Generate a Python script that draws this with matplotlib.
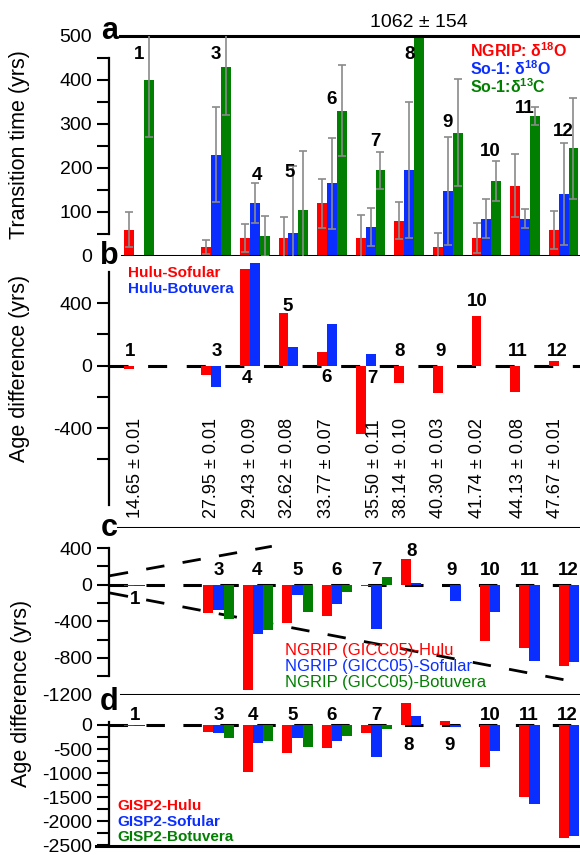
import numpy as np
import matplotlib
matplotlib.use('Agg')
import matplotlib.pyplot as plt

plt.rcParams['font.family'] = ['Liberation Sans', 'DejaVu Sans']
plt.rcParams['lines.scale_dashes'] = False

# events shown in every panel
events = [1, 3, 4, 5, 6, 7, 8, 9, 10, 11, 12]
ages = ['14.65 ± 0.01', '27.95 ± 0.01', '29.43 ± 0.09', '32.62 ± 0.08',
        '33.77 ± 0.07', '35.50 ± 0.11', '38.14 ± 0.10', '40.30 ± 0.03',
        '41.74 ± 0.02', '44.13 ± 0.08', '47.67 ± 0.01']
nan = np.nan

# a: transition times (yrs)
ngrip_d18o = [60, 20, 40, 40, 120, 40, 80, 20, 40, 160, 60]
ngrip_d18o_err = [40, 16, 32, 48, 56, 53, 42, 33, 34, 72, 43]
so1_d18o = [nan, 230, 120, 53, 165, 65, 195, 148, 85, 85, 140]
so1_d18o_err = [nan, 108, 46, 152, 103, 43, 155, 123, 45, 22, 116]
so1_d13c = [400, 430, 45, 105, 330, 195, 1062, 280, 170, 318, 245]
so1_d13c_err = [130, 110, 46, 133, 103, 42, 154, 122, 45, 21, 115]

# b: age differences (yrs)
hulu_sofular = [-20, -60, 620, 335, 85, -435, -110, -175, 320, -170, 30]
hulu_botuvera = [nan, -135, 660, 120, 265, 75, nan, nan, nan, nan, nan]

# c
ngrip_hulu = [-15, -310, -1150, -420, -345, -10, 280, nan, -610, -695, -890]
ngrip_sofular = [-10, -280, -540, -110, -210, -480, 15, -180, -300, -830, -850]
ngrip_botuvera = [nan, -380, -500, -300, -80, 80, nan, nan, nan, nan, nan]
env_x = [0.25, 4.35]
env_upper = [98, 420]
env_x_low = [0.25, 12.15]
env_lower = [-90, -1072]

# d
gisp2_hulu = [-20, -150, -980, -590, -480, -170, 460, 90, -870, -1500, -2350]
gisp2_sofular = [-30, -170, -365, -270, -340, -670, 190, -40, -550, -1640, -2310]
gisp2_botuvera = [nan, -275, -325, -465, -220, -90, nan, nan, nan, nan, nan]

# event number label placement
lab_a_dx = [0, 0, 0.05, -0.1, 0, 0.12, 0, 0, 0.1, 0, 0]
lab_a_y = [459, 459, 184, 190, 355, 261, 459, 303, 237, 336, 283]
lab_b_dx = [-0.23, 0.02, -0.2, -0.14, -0.13, 0.06, -0.24, -0.2, -0.24, -0.18, -0.17]
lab_b_y = [90, 90, -85, 378, -75, -80, 90, 90, 410, 90, 90]
lab_c_dx = [-0.11, 0, -0.03, 0.01, 0, -0.01, -0.1, -0.11, -0.13, -0.11, -0.15]
lab_c_y = [-164, 153, 153, 153, 153, 153, 360, 153, 153, 153, 153]
lab_d_dx = [-0.11, 0, -0.12, -0.11, -0.13, -0.01, -0.18, -0.16, -0.13, -0.14, -0.18]
lab_d_y = [190, 190, 190, 190, 190, 190, -417, -417, 190, 190, 190]
age_dx = [-0.1, -0.13, -0.1, -0.14, -0.13, 0.11, -0.19, -0.23, -0.24, -0.18, -0.2]

RED, BLUE, GREEN, GREY = '#ff0000', '#0a2eff', '#007f00', '#8a8a8a'
W, H = 580, 855
fig = plt.figure(figsize=(5.8, 8.55), dpi=100)


def px_axes(top, bottom, left=109):
    return fig.add_axes([left / W, 1 - bottom / H, (W - left) / W, (bottom - top) / H])


def xab(px):
    return 1 + (px - 139) / 38.6


def xcd(px):
    return 1 + (px - 139.5) / 39.5


ax_a = px_axes(36, 256)
ax_b = px_axes(256, 528)
ax_c = px_axes(528, 694.5)
ax_d = px_axes(694.5, 846)

x = np.array(events, float)
dx = 0.255


def bars(ax, xs, vals, color, err=None):
    vals = np.array(vals, float)
    m = ~np.isnan(vals)
    ax.bar(xs[m], vals[m], dx, color=color, zorder=2)
    if err is not None:
        ax.errorbar(xs[m], vals[m], yerr=np.array(err, float)[m], fmt='none',
                    ecolor=GREY, elinewidth=1.2, capsize=3, capthick=1.2, zorder=3)


def frame(ax, xl, yl, ybounds, bottom_from, ticks, labels, top_from=None, hide=()):
    ax.set_xlim(xl)
    ax.set_ylim(yl)
    ax.spines['right'].set_visible(False)
    ax.spines['left'].set_bounds(*ybounds)
    ax.spines['left'].set_linewidth(1.6)
    ax.spines['bottom'].set_bounds(bottom_from, xl[1])
    ax.spines['bottom'].set_linewidth(2.2)
    if top_from is None:
        ax.spines['top'].set_visible(False)
    else:
        ax.spines['top'].set_bounds(top_from, xl[1])
        ax.spines['top'].set_linewidth(2.2)
    ax.set_xticks([])
    ax.set_yticks(ticks, labels)
    ax.tick_params(axis='y', direction='out', length=9, width=1.5, labelsize=14, pad=3)
    for t, v in zip(ax.yaxis.get_major_ticks(), ticks):
        if v in hide:
            t.tick1line.set_markersize(0)


def zero_line(ax, on, off):
    ax.axhline(0, color='k', lw=2.2, ls=(0, (on, off)), zorder=1)


xl_ab = (xab(109), xab(580))
xl_cd = (xcd(109), xcd(580))

# ---- a
bars(ax_a, x - dx, ngrip_d18o, RED, ngrip_d18o_err)
bars(ax_a, x, so1_d18o, BLUE, so1_d18o_err)
bars(ax_a, x + dx, so1_d13c, GREEN, so1_d13c_err)
ta = list(range(0, 501, 50))
frame(ax_a, xl_ab, (0, 500), (50, 450), xab(122),
      ta, [str(v) if v % 100 == 0 else '' for v in ta], top_from=xab(120), hide=(0, 500))
for xi, d, y, n in zip(x, lab_a_dx, lab_a_y, events):
    ax_a.text(xi + d, y, str(n), ha='center', va='center', fontsize=13.5, fontweight='bold')
i8 = events.index(8)
ax_a.text(x[i8] + dx, 1.06, f'{so1_d13c[i8]} ± {so1_d13c_err[i8]}',
          transform=ax_a.get_xaxis_transform(), ha='center', va='center', fontsize=14)

# ---- b
zero_line(ax_b, 13.7, 14.1)
bars(ax_b, x - dx, hulu_sofular, RED)
bars(ax_b, x, hulu_botuvera, BLUE)
tb = [-600, -400, -200, 0, 200, 400]
frame(ax_b, xl_ab, (-1040, 703), (-890, 600), xab(118),
      tb, ['' if v % 400 else str(v) for v in tb])
for xi, d, y, n in zip(x, lab_b_dx, lab_b_y, events):
    ax_b.text(xi + d, y, str(n), ha='center', va='center', fontsize=13.5, fontweight='bold')
for xi, d, s in zip(x, age_dx, ages):
    ax_b.text(xi + d, -975, s, rotation=90, ha='center', va='bottom', fontsize=13)

# ---- c
zero_line(ax_c, 13.3, 13.3)
bars(ax_c, x - dx, ngrip_hulu, RED)
bars(ax_c, x, ngrip_sofular, BLUE)
bars(ax_c, x + dx, ngrip_botuvera, GREEN)
ax_c.plot(env_x, env_upper, color='k', lw=2, ls=(0, (13.3, 13.3)), zorder=1)
ax_c.plot(env_x_low, env_lower, color='k', lw=2, ls=(0, (13.3, 13.3)), zorder=1)
tc = list(range(-1200, 401, 200))
frame(ax_c, xl_cd, (-1200, 620), (-1000, 400), xcd(121),
      tc, ['' if v % 400 else str(v) for v in tc], hide=(-1200,))
for xi, d, y, n in zip(x, lab_c_dx, lab_c_y, events):
    ax_c.text(xi + d, y, str(n), ha='center', va='center', fontsize=13.5, fontweight='bold')

# ---- d
zero_line(ax_d, 13.3, 13.3)
bars(ax_d, x - dx, gisp2_hulu, RED)
bars(ax_d, x, gisp2_sofular, BLUE)
bars(ax_d, x + dx, gisp2_botuvera, GREEN)
td = list(range(-2500, 1, 250))
frame(ax_d, xl_cd, (-2520, 635), (-2520, 70), xcd(96),
      td, ['' if v % 500 else str(v) for v in td])
for xi, d, y, n in zip(x, lab_d_dx, lab_d_y, events):
    ax_d.text(xi + d, y, str(n), ha='center', va='center', fontsize=13.5, fontweight='bold')


def ptext(px, py, s, **kw):
    fig.text(px / W, 1 - py / H, s, **kw)


# panel letters
for s, px, py in [('a', 110, 31), ('b', 109, 256), ('c', 109, 528), ('d', 109, 702)]:
    ptext(px, py, s, ha='center', va='center', fontsize=22, fontweight='bold')

# axis titles
ptext(20, 145, 'Transition time (yrs)', rotation=90, ha='center', va='center', fontsize=15.5)
ptext(20, 368, 'Age difference (yrs)', rotation=90, ha='center', va='center', fontsize=15.5)
ptext(22, 693, 'Age difference (yrs)', rotation=90, ha='center', va='center', fontsize=15.5)

# legends
for s, c, py in [(r'NGRIP: $\mathregular{\delta^{18}}$O', RED, 51),
                 (r'So-1: $\mathregular{\delta^{18}}$O', BLUE, 69),
                 (r'So-1:$\mathregular{\delta^{13}}$C', GREEN, 87)]:
    ptext(470, py, s, color=c, ha='left', va='center', fontsize=11.5, fontweight='bold')
for s, c, py in [('Hulu-Sofular', RED, 273), ('Hulu-Botuvera', BLUE, 289)]:
    ptext(128, py, s, color=c, ha='left', va='center', fontsize=11, fontweight='bold')
for s, c, py in [('NGRIP (GICC05)-Hulu', RED, 650), ('NGRIP (GICC05)-Sofular', BLUE, 666.5),
                 ('NGRIP (GICC05)-Botuvera', GREEN, 683)]:
    ptext(285, py, s, color=c, ha='left', va='center', fontsize=12)
for s, c, py in [('GISP2-Hulu', RED, 806), ('GISP2-Sofular', BLUE, 821.5),
                 ('GISP2-Botuvera', GREEN, 837)]:
    ptext(117, py, s, color=c, ha='left', va='center', fontsize=11, fontweight='bold')

fig.savefig('out.png', dpi=100)
